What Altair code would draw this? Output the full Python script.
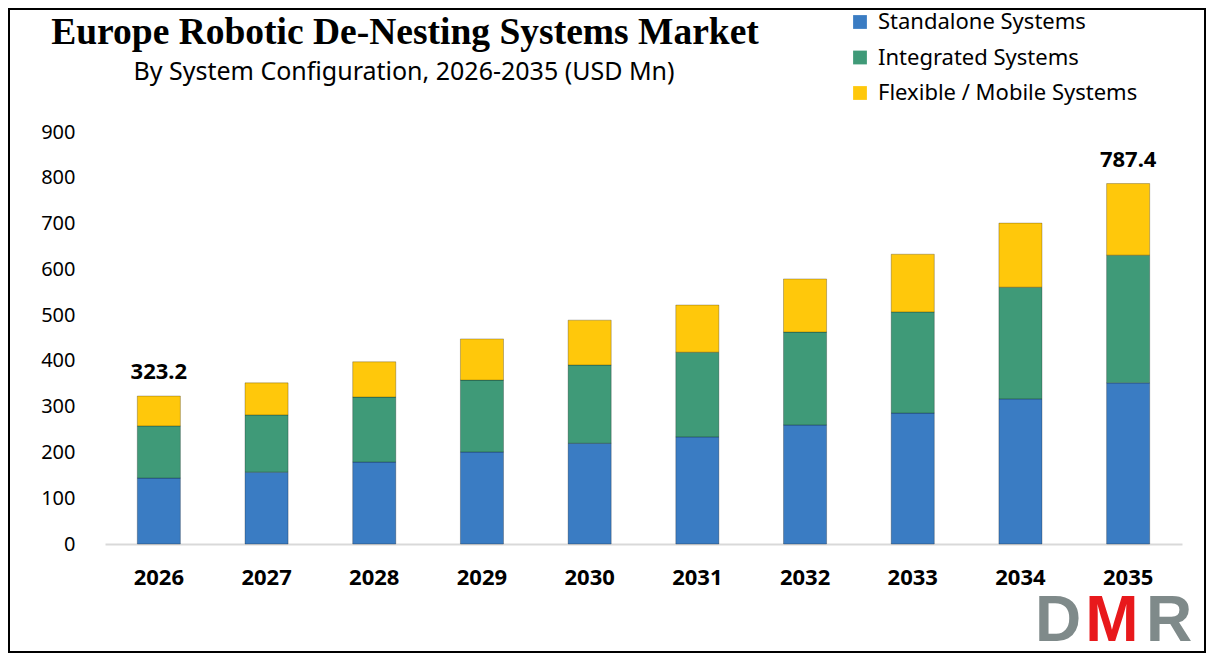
import altair as alt
import pandas as pd

years = ["2026", "2027", "2028", "2029", "2030", "2031", "2032", "2033", "2034", "2035"]
standalone = [144.0, 157.0, 179.0, 201.0, 220.0, 234.0, 260.0, 286.0, 317.0, 352.0]
integrated = [114.0, 125.0, 142.0, 157.0, 171.0, 185.0, 203.0, 221.0, 244.0, 279.0]
flexible = [65.2, 70.0, 77.0, 90.0, 98.0, 103.0, 116.0, 126.0, 140.0, 156.4]
series = ["Standalone Systems", "Integrated Systems", "Flexible / Mobile Systems"]
colors = ["#3A7CC3", "#3F9A78", "#FFC80B"]
labelled_years = ["2026", "2035"]

title_text = "Europe Robotic De-Nesting Systems Market"
subtitle_text = "By System Configuration, 2026-2035 (USD Mn)"

rows = []
for i, y in enumerate(years):
    for k, (name, vals) in enumerate(zip(series, [standalone, integrated, flexible])):
        rows.append({"Year": y, "Segment": name, "Value": vals[i], "order": k})
df = pd.DataFrame(rows)

totals = pd.DataFrame({
    "Year": years,
    "Total": [round(a + b + c, 1) for a, b, c in zip(standalone, integrated, flexible)],
})
totals = totals[totals["Year"].isin(labelled_years)]

W, H = 1077, 412
PL, PT = 97, 124
TOTAL_W, TOTAL_H = 1198, 645
PR = TOTAL_W - PL - W
PB = TOTAL_H - PT - H

sans = "Noto Sans"

x_enc = alt.X("Year:N", sort=years, title=None,
              scale=alt.Scale(paddingInner=0.6, paddingOuter=0.3),
              axis=alt.Axis(labelAngle=0, labelFontSize=22, labelFontWeight="bold",
                            labelFont=sans, labelColor="#000", ticks=False,
                            domainColor="#d9d9d9", domainWidth=2, labelPadding=23))

bars = alt.Chart(df).mark_bar(stroke="#000", strokeOpacity=0.25, strokeWidth=1).encode(
    x=x_enc,
    y=alt.Y("Value:Q", stack="zero", title=None,
            scale=alt.Scale(domain=[0, 900], nice=False),
            axis=alt.Axis(values=list(range(0, 901, 100)), grid=False, domain=False,
                          ticks=False, labelFontSize=20, labelFont=sans,
                          labelColor="#000", labelPadding=30)),
    color=alt.Color("Segment:N", sort=series,
                    scale=alt.Scale(domain=series, range=colors),
                    legend=alt.Legend(title=None, orient="none", legendX=744, legendY=-121,
                                      symbolType="square", symbolSize=190,
                                      symbolStrokeWidth=0, labelFontSize=22,
                                      labelFont=sans, labelColor="#000", labelLimit=400,
                                      rowPadding=13.5, labelOffset=7)),
    order=alt.Order("order:Q"),
)

labels = alt.Chart(totals).mark_text(
    fontSize=22, fontWeight="bold", font=sans, color="#000", dy=-24, baseline="middle"
).encode(
    x=alt.X("Year:N", sort=years),
    y=alt.Y("Total:Q"),
    text=alt.Text("Total:Q", format=".1f"),
)

one = pd.DataFrame({"t": [title_text], "s": [subtitle_text], "d": ["D"], "m": ["M"], "r": ["R"]})

title = alt.Chart(one).mark_text(
    font="Liberation Serif", fontSize=37.5, fontWeight="bold", color="#000",
    align="center", baseline="alphabetic"
).encode(x=alt.value(300), y=alt.value(-88), text="t:N")

subtitle = alt.Chart(one).mark_text(
    font=sans, fontSize=25, color="#000", align="center", baseline="alphabetic"
).encode(x=alt.value(299), y=alt.value(-52), text="s:N")

logo_kw = dict(font="Liberation Sans", fontSize=64, fontWeight="bold",
               align="center", baseline="alphabetic")
logo_d = alt.Chart(one).mark_text(color="#7F8A8A", **logo_kw).encode(
    x=alt.value(1058 - 105), y=alt.value(509), text="d:N")
logo_m = alt.Chart(one).mark_text(color="#E8191C", **logo_kw).encode(
    x=alt.value(1112 - 105), y=alt.value(509), text="m:N")
logo_r = alt.Chart(one).mark_text(color="#7F8A8A", **logo_kw).encode(
    x=alt.value(1169 - 105), y=alt.value(509), text="r:N")

frame = alt.Chart(one).mark_rect(fill=None, stroke="#000", strokeWidth=2).encode(
    x=alt.value(-PL + 1), x2=alt.value(W + PR - 1),
    y=alt.value(-PT + 1), y2=alt.value(H + PB - 1),
)

chart = alt.layer(bars, labels, title, subtitle, logo_d, logo_m, logo_r, frame).properties(
    width=W, height=H,
    autosize=alt.AutoSizeParams(type="none"),
    padding={"left": PL, "top": PT, "right": PR, "bottom": PB},
    background="white",
).configure_view(stroke=None)

chart.save("out.html", embed_options={"renderer": "svg", "actions": False})
